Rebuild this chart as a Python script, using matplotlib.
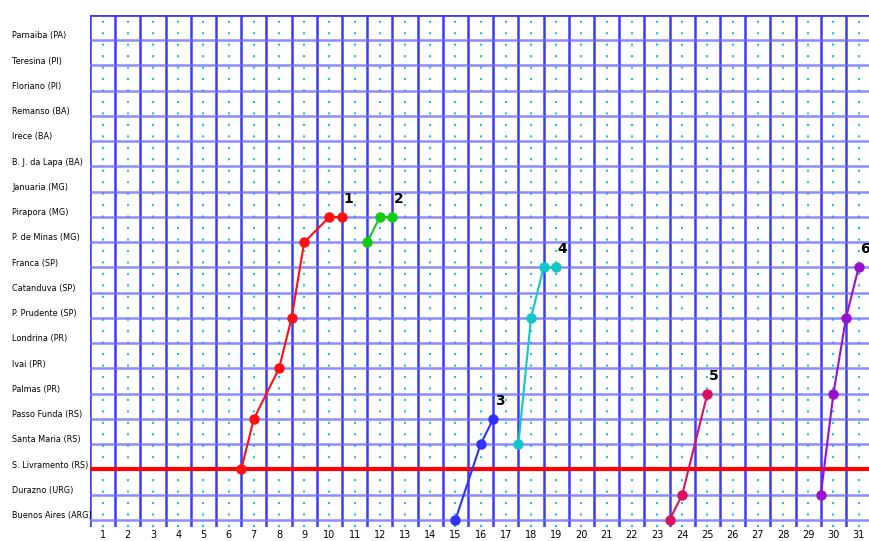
import numpy as np
import matplotlib.pyplot as plt
from matplotlib.transforms import blended_transform_factory

# Stations, from bottom (0) to top (19)
stations = ['Buenos Aires (ARG)', 'Durazno (URG)', 'S. Livramento (RS)', 'Santa Maria (RS)',
            'Passo Funda (RS)', 'Palmas (PR)', 'Ivai (PR)', 'Londrina (PR)', 'P. Prudente (SP)',
            'Catanduva (SP)', 'Franca (SP)', 'P. de Minas (MG)', 'Pirapora (MG)', 'Januaria (MG)',
            'B. J. da Lapa (BA)', 'Irece (BA)', 'Remanso (BA)', 'Floriano (PI)', 'Teresina (PI)',
            'Parnaiba (PA)']
days = list(range(1, 32))

# Tracks: day and station index
t1_day = [6.5, 7, 8, 8.5, 9, 10, 10.5]
t1_st = [2, 4, 6, 8, 11, 12, 12]
t2_day = [11.5, 12, 12.5]
t2_st = [11, 12, 12]
t3_day = [15, 16, 16.5]
t3_st = [0, 3, 4]
t4_day = [17.5, 18, 18.5, 19]
t4_st = [3, 8, 10, 10]
t5_day = [23.5, 24, 25]
t5_st = [0, 1, 5]
t6_day = [29.5, 30, 30.5, 31]
t6_st = [1, 5, 8, 10]

track_labels = ['1', '2', '3', '4', '5', '6']
track_colors = ['#ff1010', '#10cc10', '#3030ff', '#10c8c8', '#dd1060', '#9a10d0']
ref_station = 2  # S. Livramento

fig = plt.figure(figsize=(8.69, 5.41), dpi=100)
ax = fig.add_axes([90 / 869, (541 - 527) / 541, 779 / 869, (527 - 15) / 541])
ax.set_xlim(0.5, 0.5 + 779 / 25.2)
ax.set_ylim(-7 / 25.2, 20)
for s in ax.spines.values():
    s.set_visible(False)
ax.set_xticks([])
ax.set_yticks([])

# grid
for xv in np.arange(0.5, 32, 1):
    ax.axvline(xv, color='#3a3aff', lw=1.8, zorder=1)
for d in days:
    ax.axvline(d, color='#18c8d0', lw=1.5, ls=(0, (1, 4.5)), zorder=1)
for i in range(len(stations)):
    ax.axhline(i, color='#7070ff', lw=1.8, alpha=0.8, zorder=1)
ax.axhline(20, color='#3a3aff', lw=2, zorder=1)
ax.axhline(ref_station, color='#ff0000', lw=3, zorder=2)

tracks = [(t1_day, t1_st), (t2_day, t2_st), (t3_day, t3_st),
          (t4_day, t4_st), (t5_day, t5_st), (t6_day, t6_st)]
for (dx, sy), c, lab in zip(tracks, track_colors, track_labels):
    ax.plot(dx, sy, color=c, lw=1.5, marker='o', ms=6.5, zorder=3, clip_on=False)
    ax.annotate(lab, (dx[-1], sy[-1]), xytext=(4.5, 8), textcoords='offset points',
                fontsize=10, fontweight='bold', color='black', ha='center', va='bottom')

# station labels
tr = blended_transform_factory(fig.transFigure, ax.transData)
for i, name in enumerate(stations):
    ax.text(12 / 869, i + 0.17, name, transform=tr, ha='left', va='center',
            fontsize=5.9, family='DejaVu Sans Condensed', color='black')

# day labels
trx = blended_transform_factory(ax.transData, fig.transFigure)
for d in days:
    ax.text(d, 1 - 535 / 541, str(d), transform=trx, ha='center', va='center',
            fontsize=7, family='DejaVu Sans Condensed', color='black')

fig.savefig('out.png', dpi=100)
